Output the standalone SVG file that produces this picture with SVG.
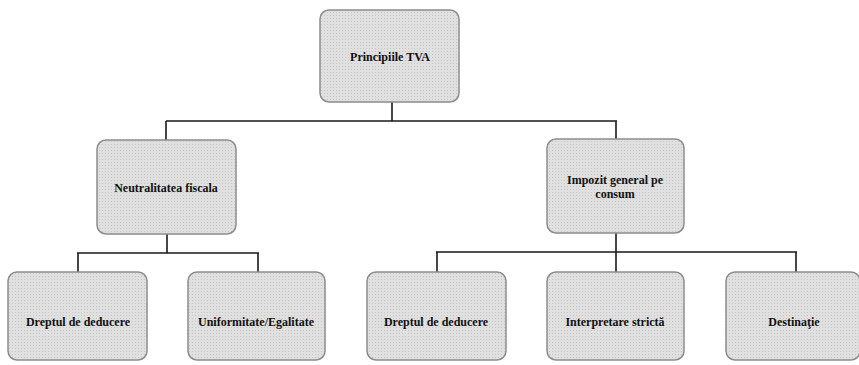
<svg xmlns="http://www.w3.org/2000/svg" width="859" height="365" viewBox="0 0 859 365">
<defs>
<pattern id="dots" width="3" height="3" patternUnits="userSpaceOnUse">
<rect width="3" height="3" fill="#e0e0e0"/>
<rect width="1" height="1" fill="#c6c6c6"/>
</pattern>
</defs>
<style>
.box{fill:url(#dots);stroke:#8c8c8c;stroke-width:1.5}
.lbl{font-family:"Liberation Serif","Times New Roman",serif;font-weight:bold;font-size:12px;fill:#111;text-anchor:middle}
.conn{stroke:#1a1a1a;stroke-width:1.6;fill:none}
</style>
<rect width="859" height="365" fill="#fff"/>
<g id="connectors">
<path class="conn" d="M392,102 V121 M166,121 H617 M166,121 V140 M616,121 V139"/>
<path class="conn" d="M167,234 V253 M77,253 H259 M78,253 V272 M258,253 V272"/>
<path class="conn" d="M616,233 V252 M436,252 H797 M437,252 V272 M616,252 V272 M796,252 V272"/>
</g>
<g id="n-principii"><rect class="box" x="320" y="10" width="139" height="92" rx="9"/><text class="lbl" x="390" y="61">Principiile TVA</text></g>
<g id="n-neutralitate"><rect class="box" x="97" y="140" width="139" height="94" rx="9"/><text class="lbl" x="166" y="192">Neutralitatea fiscala</text></g>
<g id="n-impozit"><rect class="box" x="547" y="139" width="137" height="94" rx="9"/><text class="lbl" x="615" y="184">Impozit general pe</text><text class="lbl" x="615" y="198">consum</text></g>
<g id="n-drept1"><rect class="box" x="8" y="272" width="139" height="88" rx="9"/><text class="lbl" x="78" y="326">Dreptul de deducere</text></g>
<g id="n-uniformitate"><rect class="box" x="188" y="272" width="137" height="88" rx="9"/><text class="lbl" x="256" y="326">Uniformitate/Egalitate</text></g>
<g id="n-drept2"><rect class="box" x="367" y="272" width="139" height="88" rx="9"/><text class="lbl" x="436" y="326">Dreptul de deducere</text></g>
<g id="n-interpretare"><rect class="box" x="547" y="272" width="137" height="88" rx="9"/><text class="lbl" x="615" y="326">Interpretare strictă</text></g>
<g id="n-destinatie"><rect class="box" x="726" y="272" width="134" height="88" rx="9"/><text class="lbl" x="794" y="326">Destinaţie</text></g>
</svg>
